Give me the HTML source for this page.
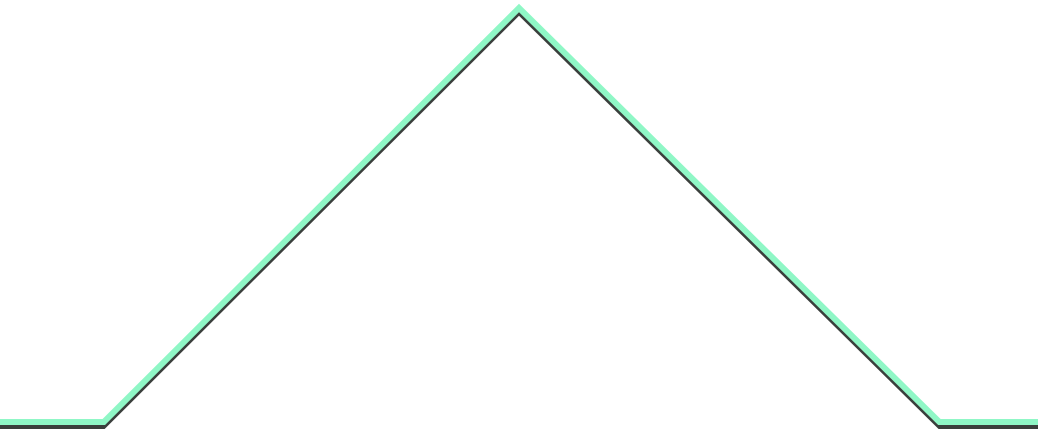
<!DOCTYPE html>
<html><head><meta charset="utf-8"><style>html,body{margin:0;padding:0;background:#fff;width:1038px;height:432px;overflow:hidden}</style></head>
<body>
<svg id="chart" width="1038" height="432" xmlns="http://www.w3.org/2000/svg"></svg>
<script>
const xValues = [0, 10, 50, 90.5, 100];
const yValues = [0, 0, 100, 0, 0];
const xScale = v => v / 100 * 1038;
const yScale = v => 422 - v / 100 * 414;
const svg = document.getElementById('chart');
const pts = xValues.map((x, i) => xScale(x) + ',' + yScale(yValues[i])).join(' ');
const ns = 'http://www.w3.org/2000/svg';
const shadow = document.createElementNS(ns, 'polyline');


shadow.setAttribute('points', pts);
shadow.setAttribute('transform', 'translate(0,5)');
shadow.setAttribute('fill', 'none');
shadow.setAttribute('stroke', '#3a3f3c');
shadow.setAttribute('stroke-width', '4');
svg.appendChild(shadow);
const line = document.createElementNS(ns, 'polyline');


line.setAttribute('points', pts);
line.setAttribute('fill', 'none');
line.setAttribute('stroke', '#8ff7c6');
line.setAttribute('stroke-width', '6');
svg.appendChild(line);
</script>
</body></html>
